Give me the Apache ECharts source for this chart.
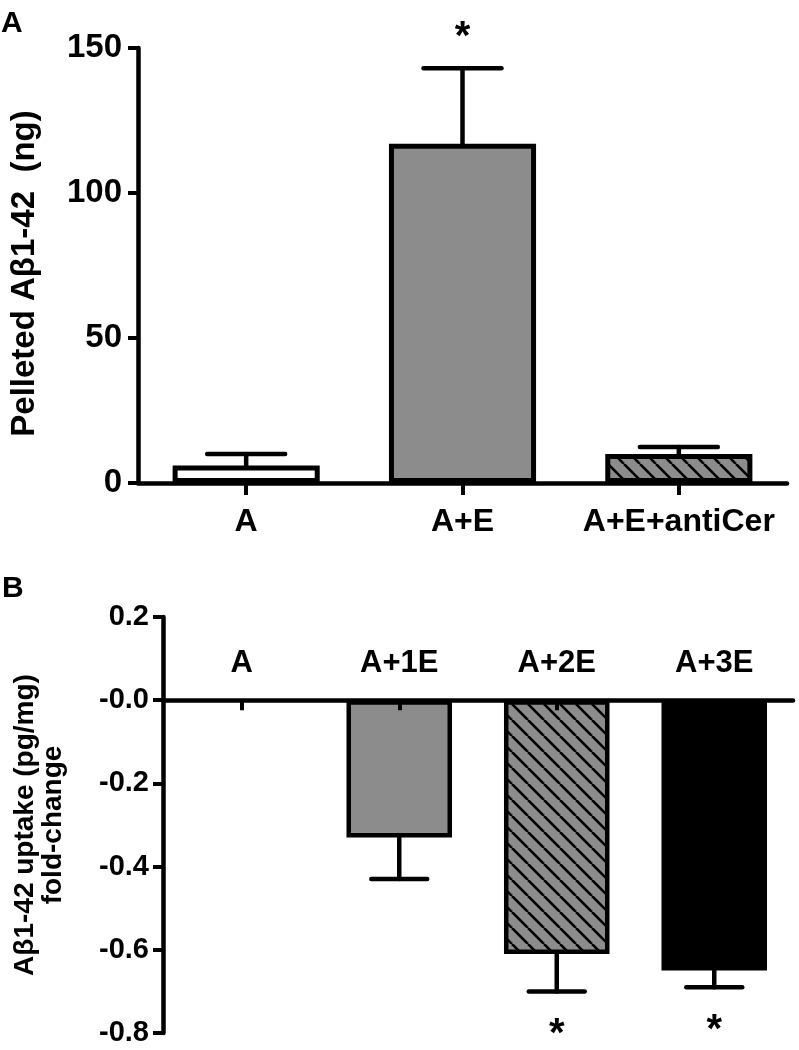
<!DOCTYPE html>
<html>
<head>
<meta charset="utf-8">
<script src="https://cdn.jsdelivr.net/npm/echarts@6/dist/echarts.min.js"></script>
<style>
html,body{margin:0;padding:0;background:#fff;}
#chart{width:799px;height:1050px;}
</style>
</head>
<body>
<div id="chart"></div>
<script>
// ---- Panel A data ----
const catsA = ['A', 'A+E', 'A+E+antiCer'];
const meanA = [6, 117, 10];
const errEndA = [10, 143, 12.4];
const sigA = ['', '*', ''];
const yTicksA = [0, 50, 100, 150];
const yLabelsA = ['0', '50', '100', '150'];

// ---- Panel B data ----
const catsB = ['A', 'A+1E', 'A+2E', 'A+3E'];
const meanB = [0, -0.33, -0.61, -0.65];
const errEndB = [0, -0.43, -0.70, -0.69];
const sigB = ['', '', '*', '*'];
const yTicksB = [-0.8, -0.6, -0.4, -0.2, 0, 0.2];
const yLabelsB = ['-0.8', '-0.6', '-0.4', '-0.2', '-0.0', '0.2'];

const FONT = 'Liberation Sans, Arial, Helvetica, sans-serif';
const GRAY = '#8c8c8c';

function hatch() {
  const s = 16;
  const c = document.createElement('canvas');
  c.width = s; c.height = s;
  const g = c.getContext('2d');
  g.fillStyle = GRAY;
  g.fillRect(0, 0, s, s);
  g.strokeStyle = '#000';
  g.lineWidth = 2.6;
  for (const k of [-s, 0, s]) {
    g.beginPath();
    g.moveTo(k, 0);
    g.lineTo(k + s, s);
    g.stroke();
  }
  return { image: c, repeat: 'repeat' };
}
const HATCH = hatch();

const colorsA = ['#ffffff', GRAY, HATCH];
const colorsB = ['#ffffff', GRAY, HATCH, '#000000'];

function labelFrom(ticks, labels) {
  return function (v) {
    let best = 0;
    for (let i = 1; i < ticks.length; i++) {
      if (Math.abs(ticks[i] - v) < Math.abs(ticks[best] - v)) best = i;
    }
    return labels[best];
  };
}

function errRender(sig, barFrac, starUp, starDown) {
  return function (params, api) {
    const i = api.value(0);
    const p0 = api.coord([i, api.value(1)]);
    const p1 = api.coord([i, api.value(2)]);
    const band = api.size([1, 0])[0];
    const half = band * barFrac * 0.265;
    const children = [];
    const st = { stroke: '#000', lineWidth: 4.5, lineCap: 'round' };
    if (Math.abs(p1[1] - p0[1]) > 0.5) {
      children.push({ type: 'line', shape: { x1: p0[0], y1: p0[1], x2: p1[0], y2: p1[1] }, style: st });
      children.push({ type: 'line', shape: { x1: p1[0] - half, y1: p1[1], x2: p1[0] + half, y2: p1[1] }, style: st });
    }
    if (sig[i]) {
      const up = p1[1] < p0[1];
      children.push({
        type: 'text',
        style: {
          text: sig[i], x: p1[0], y: p1[1] + (up ? -starUp : starDown),
          align: 'center', verticalAlign: 'middle',
          fontSize: 40, fontWeight: 'bold', fontFamily: FONT, fill: '#000'
        }
      });
    }
    return { type: 'group', children: children };
  };
}

const axisLine = { show: true, lineStyle: { color: '#000', width: 4.5 } };

// panel B layout: the category axis sits on the zero line of the value axis
const gridB = { left: 163, top: 617, width: 630, height: 416 };
const yMinB = yTicksB[0], yMaxB = yTicksB[yTicksB.length - 1];
const zeroOffsetB = -gridB.height * (yMaxB - 0) / (yMaxB - yMinB);

const option = {
  backgroundColor: '#fff',
  animation: false,
  textStyle: { fontFamily: FONT, fontWeight: 'bold', color: '#000' },
  graphic: [
    { type: 'text', left: 1, top: 9, style: { text: 'A', fontSize: 30, fontWeight: 'bold', fontFamily: FONT, fill: '#000' } },
    { type: 'text', left: 2, top: 574, style: { text: 'B', fontSize: 30, fontWeight: 'bold', fontFamily: FONT, fill: '#000' } }
  ],
  grid: [
    { left: 133, top: 48, width: 654, height: 435 },
    gridB
  ],
  xAxis: [
    {
      gridIndex: 0, type: 'category', data: catsA,
      axisLine: axisLine,
      axisTick: { show: true, alignWithLabel: true, length: 12, lineStyle: { color: '#000', width: 4 } },
      axisLabel: { interval: 0, margin: 23, fontSize: 32, fontWeight: 'bold', fontFamily: FONT, color: '#000' },
      splitLine: { show: false }
    },
    {
      gridIndex: 1, type: 'category', data: catsB, position: 'top', offset: zeroOffsetB, z: 5,
      axisLine: { show: true, onZero: false, lineStyle: { color: '#000', width: 4.5 } },
      axisTick: { show: true, inside: true, alignWithLabel: true, length: 10, lineStyle: { color: '#000', width: 4 } },
      axisLabel: { interval: 0, margin: 21, fontSize: 31, fontWeight: 'bold', fontFamily: FONT, color: '#000' },
      splitLine: { show: false }
    }
  ],
  yAxis: [
    {
      gridIndex: 0, type: 'value',
      min: yTicksA[0], max: yTicksA[yTicksA.length - 1], interval: yTicksA[1] - yTicksA[0],
      name: 'Pelleted A\u03b21-42  (ng)', nameLocation: 'middle', nameRotate: 90, nameGap: 97,
      nameTextStyle: { fontSize: 33, fontWeight: 'bold', fontFamily: FONT, color: '#000', padding: [0, 16, 0, 0] },
      axisLine: axisLine,
      axisTick: { show: true, length: 10, lineStyle: { color: '#000', width: 4 } },
      axisLabel: { margin: 16, fontSize: 33, fontWeight: 'bold', fontFamily: FONT, color: '#000', formatter: labelFrom(yTicksA, yLabelsA) },
      splitLine: { show: false }
    },
    {
      gridIndex: 1, type: 'value',
      min: yMinB, max: yMaxB, interval: 0.2,
      name: 'A\u03b21-42 uptake (pg/mg)\nfold-change', nameLocation: 'middle', nameRotate: 90, nameGap: 96,
      nameTextStyle: { fontSize: 28, fontWeight: 'bold', fontFamily: FONT, color: '#000', lineHeight: 28, align: 'center' },
      axisLine: axisLine,
      axisTick: { show: true, length: 10, lineStyle: { color: '#000', width: 4 } },
      axisLabel: { margin: 14, fontSize: 29, fontWeight: 'bold', fontFamily: FONT, color: '#000', formatter: labelFrom(yTicksB, yLabelsB) },
      splitLine: { show: false }
    }
  ],
  series: [
    {
      type: 'bar', xAxisIndex: 0, yAxisIndex: 0, barWidth: '68%',
      data: meanA.map((v, i) => ({ value: v, itemStyle: { color: colorsA[i] } })),
      itemStyle: { borderColor: '#000', borderWidth: 5 },
      z: 2
    },
    {
      type: 'custom', xAxisIndex: 0, yAxisIndex: 0,
      renderItem: errRender(sigA, 0.68, 30, 44),
      data: meanA.map((v, i) => [i, v, errEndA[i]]),
      encode: { x: 0, y: [1, 2] },
      z: 3
    },
    {
      type: 'bar', xAxisIndex: 1, yAxisIndex: 1, barWidth: '67%',
      data: meanB.map((v, i) => ({ value: v, itemStyle: { color: colorsB[i], borderWidth: v === 0 ? 0 : 4.5 } })),
      itemStyle: { borderColor: '#000', borderWidth: 4.5 },
      z: 2
    },
    {
      type: 'custom', xAxisIndex: 1, yAxisIndex: 1,
      renderItem: errRender(sigB, 0.67, 30, 44),
      data: meanB.map((v, i) => [i, v, errEndB[i]]),
      encode: { x: 0, y: [1, 2] },
      z: 3
    }
  ]
};

const chart = echarts.init(document.getElementById('chart'), null, { renderer: 'canvas' });
chart.setOption(option);
</script>
</body>
</html>
